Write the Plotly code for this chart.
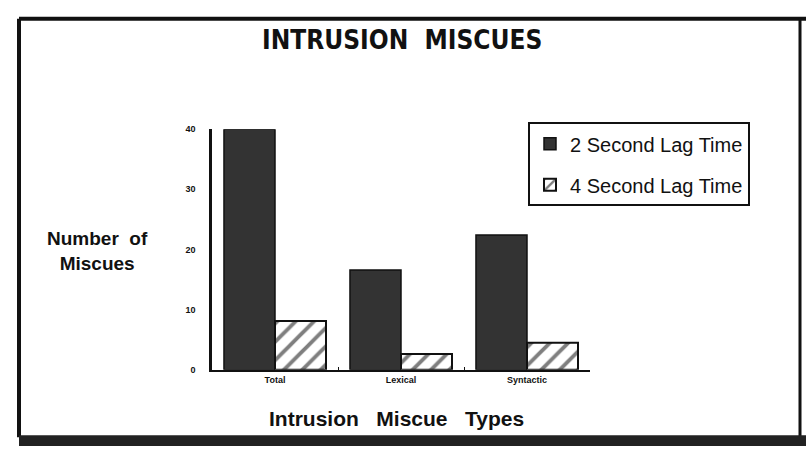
import plotly.graph_objects as go

categories = ["Total", "Lexical", "Syntactic"]
lag2 = [40, 16.6, 22.4]
lag4 = [8.1, 2.6, 4.5]
series_names = ["2 Second Lag Time", "4 Second Lag Time"]
y_ticks = [0, 10, 20, 30, 40]

W, H = 806, 451
def px(x):
    return x / W
def py(y):
    return 1 - y / H

NARROW = "Liberation Sans Narrow, Arial Narrow, DejaVu Sans Condensed, sans-serif"
BOLD = "Liberation Sans, Arial, sans-serif"

fig = go.Figure()
fig.add_trace(go.Bar(
    x=categories, y=lag2, name=series_names[0], legendgroup="a",
    marker=dict(color="#333333", line=dict(color="#111111", width=1.5)),
))
fig.add_trace(go.Bar(
    x=categories, y=lag4, name=series_names[1], legendgroup="b",
    marker=dict(color="white", line=dict(color="#111111", width=2),
                pattern=dict(shape="/", fgcolor="#000000", bgcolor="white",
                             size=13, solidity=0.3)),
))

fig.update_layout(
    width=W, height=H,
    margin=dict(l=0, r=0, t=0, b=0),
    paper_bgcolor="white", plot_bgcolor="white",
    barmode="group", bargap=0.19, bargroupgap=0,
    showlegend=True,
    legend=dict(x=px(528), y=py(120), xanchor="left", yanchor="top",
                bordercolor="#111111", borderwidth=2, bgcolor="white",
                font=dict(family=BOLD, size=20, color="#111111"),
                traceorder="grouped", tracegroupgap=12, itemwidth=30),
    xaxis=dict(domain=[px(212), px(590)], range=[-0.5, 2.5],
               showline=True, linecolor="#111111", linewidth=2,
               ticks="inside", ticklen=3, tickcolor="#111111", tickson="boundaries",
               tickfont=dict(family=BOLD, size=9, color="#111111"),
               ticktext=["<b>Total</b>", "<b>Lexical</b>", "<b>Syntactic</b>"],
               tickvals=categories,
               showgrid=False, zeroline=False),
    yaxis=dict(domain=[py(373), py(127)], range=[0, 40],
               tickvals=y_ticks, ticktext=[f"<b>{v}</b>" for v in y_ticks],
               showline=True, linecolor="#111111", linewidth=2.5,
               ticks="", tickfont=dict(family=BOLD, size=9, color="#111111"),
               showgrid=False, zeroline=False, ticklabelstandoff=12),
    font=dict(family=BOLD, color="#111111"),
)

annotations = [
    dict(text="<b>INTRUSION  MISCUES</b>", x=px(402), y=py(36), font=dict(family=NARROW, size=26)),
    dict(text="<b>Number  of<br>Miscues</b>", x=px(97), y=py(252), font=dict(family=BOLD, size=19)),
    dict(text="<b>Intrusion   Miscue   Types</b>", x=px(396), y=py(423), font=dict(family=BOLD, size=21)),
]
for a in annotations:
    fig.add_annotation(xref="paper", yref="paper", showarrow=False,
                       xanchor="center", yanchor="middle", **a)

# outer frame
frame = [
    dict(x0=px(19), x1=px(19), y0=py(14), y1=py(442), width=4),
    dict(x0=px(19), x1=px(806), y0=py(14), y1=py(14), width=4),
    dict(x0=px(800), x1=px(800), y0=py(14), y1=py(442), width=3),
]
for f in frame:
    fig.add_shape(type="line", xref="paper", yref="paper",
                  x0=f["x0"], x1=f["x1"], y0=f["y0"], y1=f["y1"],
                  line=dict(color="#111111", width=f["width"]))
fig.add_shape(type="rect", xref="paper", yref="paper",
              x0=px(19), x1=px(806), y0=py(451), y1=py(440),
              fillcolor="#222222", line=dict(width=0))

post = (
    "document.documentElement.style.margin='0';"
    "document.documentElement.style.overflow='hidden';"
    "document.body.style.margin='0';document.body.style.padding='0';"
    "document.body.style.overflow='hidden';"
    "var gd=document.getElementById('{plot_id}');"
    "gd.style.position='absolute';gd.style.top='0px';gd.style.left='0px';"
)
fig.write_html("out.html", config={"displayModeBar": False}, post_script=post)
